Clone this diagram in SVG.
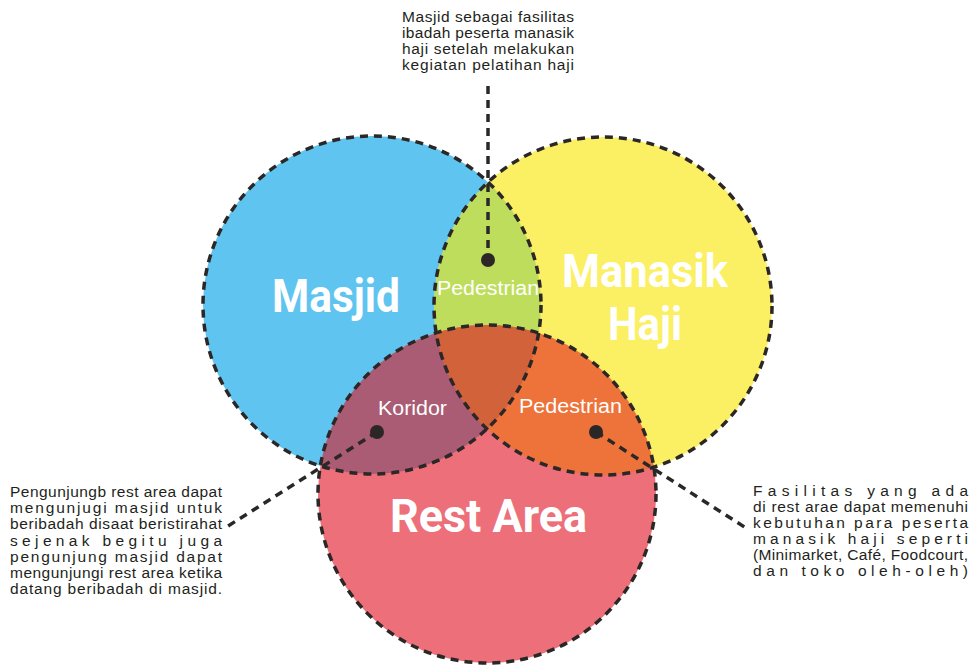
<svg xmlns="http://www.w3.org/2000/svg" width="977" height="667" viewBox="0 0 977 667">
<style>
.outline{fill:none;stroke:#2b2727;stroke-width:3.5;stroke-dasharray:8 6}
.conn{fill:none;stroke:#2b2727;stroke-width:3.5;stroke-dasharray:8 6}
.dot{fill:#2b2727}
.big{font-family:Roboto,"Liberation Sans",sans-serif;font-weight:700;font-size:46px;fill:#ffffff;text-anchor:middle}
.small{font-family:"Liberation Sans",Arial,sans-serif;font-size:20px;fill:#ffffff}
.note{font-family:"Liberation Sans",Arial,sans-serif;font-size:15.5px;fill:#231f20}
</style>
<defs>
<clipPath id="cBlue"><circle cx="372" cy="305" r="169"/></clipPath>
<clipPath id="cYellow"><circle cx="603" cy="306" r="169"/></clipPath>
<clipPath id="cRed"><circle cx="487" cy="494" r="169"/></clipPath>
</defs>
<rect width="977" height="667" fill="#ffffff"/>

<g id="fills">
<circle cx="372" cy="305" r="169" fill="#5fc4ef"/>
<circle cx="603" cy="306" r="169" fill="#fbef63"/>
<circle cx="487" cy="494" r="169" fill="#ec6f79"/>
<g clip-path="url(#cBlue)"><circle cx="603" cy="306" r="169" fill="#bedd5c"/></g>
<g clip-path="url(#cBlue)"><circle cx="487" cy="494" r="169" fill="#a95c73"/></g>
<g clip-path="url(#cYellow)"><circle cx="487" cy="494" r="169" fill="#ed733a"/></g>
<g clip-path="url(#cBlue)"><g clip-path="url(#cYellow)"><circle cx="487" cy="494" r="169" fill="#d2623a"/></g></g>
</g>

<g id="masjid">
<circle class="outline" cx="372" cy="305" r="169"/>
<text class="big" x="336" y="312" textLength="128" lengthAdjust="spacingAndGlyphs">Masjid</text>
</g>
<g id="manasik-haji">
<circle class="outline" cx="603" cy="306" r="169"/>
<text class="big" x="645" y="287" textLength="166" lengthAdjust="spacingAndGlyphs">Manasik</text>
<text class="big" x="645" y="340" textLength="74" lengthAdjust="spacingAndGlyphs">Haji</text>
</g>
<g id="rest-area">
<circle class="outline" cx="487" cy="494" r="169"/>
<text class="big" x="488.5" y="532" textLength="197" lengthAdjust="spacingAndGlyphs">Rest Area</text>
</g>

<g id="label-pedestrian-top">
<text class="small" x="437" y="295" textLength="102" lengthAdjust="spacingAndGlyphs">Pedestrian</text>
</g>
<g id="label-koridor">
<text class="small" x="378" y="415" textLength="69" lengthAdjust="spacingAndGlyphs">Koridor</text>
</g>
<g id="label-pedestrian-right">
<text class="small" x="519" y="413" textLength="103" lengthAdjust="spacingAndGlyphs">Pedestrian</text>
</g>

<g id="connectors">
<line class="conn" x1="488" y1="86" x2="488" y2="260"/>
<line class="conn" x1="377" y1="432" x2="228" y2="526"/>
<line class="conn" x1="596" y1="432" x2="746" y2="528"/>
<circle class="dot" cx="488" cy="260" r="7"/>
<circle class="dot" cx="377" cy="432" r="7"/>
<circle class="dot" cx="596" cy="432" r="7"/>
</g>

<g id="note-top">
<text class="note" x="402" y="22" textLength="172" lengthAdjust="spacing">Masjid sebagai fasilitas</text>
<text class="note" x="402" y="38" textLength="172" lengthAdjust="spacing">ibadah peserta manasik</text>
<text class="note" x="402" y="54" textLength="172" lengthAdjust="spacing">haji setelah melakukan</text>
<text class="note" x="402" y="70" textLength="172" lengthAdjust="spacing">kegiatan pelatihan haji</text>
</g>

<g id="note-left">
<text class="note" x="10" y="497" textLength="212" lengthAdjust="spacing">Pengunjungb rest area dapat</text>
<text class="note" x="10" y="513" textLength="212" lengthAdjust="spacing">mengunjugi masjid untuk</text>
<text class="note" x="10" y="529" textLength="212" lengthAdjust="spacing">beribadah disaat beristirahat</text>
<text class="note" x="10" y="546" textLength="212" lengthAdjust="spacing">sejenak begitu juga</text>
<text class="note" x="10" y="562" textLength="212" lengthAdjust="spacing">pengunjung masjid dapat</text>
<text class="note" x="10" y="578" textLength="212" lengthAdjust="spacing">mengunjungi rest area ketika</text>
<text class="note" x="10" y="594" textLength="212" lengthAdjust="spacing">datang beribadah di masjid.</text>
</g>

<g id="note-right">
<text class="note" x="753" y="496" textLength="215" lengthAdjust="spacing">Fasilitas yang ada</text>
<text class="note" x="753" y="512" textLength="215" lengthAdjust="spacing">di rest arae dapat memenuhi</text>
<text class="note" x="753" y="528" textLength="215" lengthAdjust="spacing">kebutuhan para peserta</text>
<text class="note" x="753" y="544" textLength="215" lengthAdjust="spacing">manasik haji seperti</text>
<text class="note" x="753" y="560" textLength="215" lengthAdjust="spacing">(Minimarket, Café, Foodcourt,</text>
<text class="note" x="753" y="576" textLength="215" lengthAdjust="spacing">dan toko oleh-oleh)</text>
</g>
</svg>
